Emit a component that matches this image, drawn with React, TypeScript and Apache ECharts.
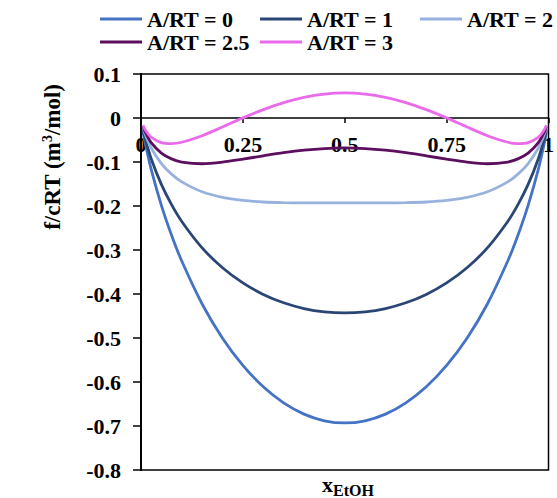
import React, { useEffect, useRef } from "react";
import * as echarts from "echarts";

const xValues = [0.005, 0.01, 0.025, 0.05, 0.075, 0.1, 0.15, 0.2, 0.25, 0.3, 0.35, 0.4, 0.45, 0.5, 0.55, 0.6, 0.65, 0.7, 0.75, 0.8, 0.85, 0.9, 0.925, 0.95, 0.975, 0.99, 0.995];

const seriesNames = ["A/RT = 0", "A/RT = 1", "A/RT = 2", "A/RT = 2.5", "A/RT = 3"];

const a0 = [-0.0315, -0.056, -0.1169, -0.1985, -0.2664, -0.3251, -0.4227, -0.5004, -0.5623, -0.6109, -0.6474, -0.673, -0.6881, -0.6931, -0.6881, -0.673, -0.6474, -0.6109, -0.5623, -0.5004, -0.4227, -0.3251, -0.2664, -0.1985, -0.1169, -0.056, -0.0315];
const a1 = [-0.0265, -0.0461, -0.0925, -0.151, -0.197, -0.2351, -0.2952, -0.3404, -0.3748, -0.4009, -0.4199, -0.433, -0.4406, -0.4431, -0.4406, -0.433, -0.4199, -0.4009, -0.3748, -0.3404, -0.2952, -0.2351, -0.197, -0.151, -0.0925, -0.0461, -0.0265];
const a2 = [-0.0215, -0.0362, -0.0682, -0.1035, -0.1276, -0.1451, -0.1677, -0.1804, -0.1873, -0.1909, -0.1924, -0.193, -0.1931, -0.1931, -0.1931, -0.193, -0.1924, -0.1909, -0.1873, -0.1804, -0.1677, -0.1451, -0.1276, -0.1035, -0.0682, -0.0362, -0.0215];
const a25 = [-0.019, -0.0313, -0.056, -0.0798, -0.0929, -0.1001, -0.104, -0.1004, -0.0936, -0.0859, -0.0787, -0.073, -0.0694, -0.0681, -0.0694, -0.073, -0.0787, -0.0859, -0.0936, -0.1004, -0.104, -0.1001, -0.0929, -0.0798, -0.056, -0.0313, -0.019];
const a3 = [-0.0166, -0.0263, -0.0438, -0.056, -0.0583, -0.0551, -0.0402, -0.0204, 0.0002, 0.0191, 0.0351, 0.047, 0.0544, 0.0569, 0.0544, 0.047, 0.0351, 0.0191, 0.0002, -0.0204, -0.0402, -0.0551, -0.0583, -0.056, -0.0438, -0.0263, -0.0166];

const seriesValues = [a0, a1, a2, a25, a3];
const colors = ["#4472C4", "#2A4675", "#98B2DE", "#5C0F5E", "#EA6BEA"];

const FONT = "'Liberation Serif', 'Times New Roman', serif";

export default function App() {
  const ref = useRef<HTMLDivElement>(null);
  useEffect(() => {
    if (!ref.current) return;
    const chart = echarts.init(ref.current, null, { renderer: "svg" });
    const legendPos = [
      { left: 100, top: 8 },
      { left: 260, top: 8 },
      { left: 420, top: 8 },
      { left: 100, top: 31 },
      { left: 260, top: 31 },
    ];
    chart.setOption({
      animation: false,
      backgroundColor: "#fff",
      grid: {
        left: 141,
        right: 1,
        top: 74,
        bottom: 28,
        show: true,
        borderColor: "#000",
        borderWidth: 1.5,
        backgroundColor: "transparent",
      },
      legend: seriesNames.map((n, i) => ({
        data: [n],
        left: legendPos[i].left,
        top: legendPos[i].top,
        icon: "rect",
        itemWidth: 42,
        itemHeight: 3,
        padding: 0,
        textStyle: {
          fontFamily: FONT,
          fontWeight: "bold",
          fontSize: 22,
          color: "#000",
          lineHeight: 22,
        },
      })),
      xAxis: {
        type: "value",
        min: 0,
        max: 1,
        interval: 0.25,
        position: "bottom",
        offset: -352,
        axisLine: { onZero: false, lineStyle: { color: "#000", width: 1.5 } },
        axisTick: { show: true, length: 5, lineStyle: { color: "#000", width: 1.5 } },
        axisLabel: {
          margin: 15,
          fontFamily: FONT,
          fontWeight: "bold",
          fontSize: 22,
          color: "#000",
        },
        splitLine: { show: false },
      },
      yAxis: {
        type: "value",
        min: -0.8,
        max: 0.1,
        interval: 0.1,
        axisLine: { show: true, onZero: false, lineStyle: { color: "#000", width: 2 } },
        axisTick: { show: true, length: 8, lineStyle: { color: "#000", width: 1.5 } },
        axisLabel: {
          margin: 20,
          fontFamily: FONT,
          fontWeight: "bold",
          fontSize: 22,
          color: "#000",
        },
        splitLine: { show: false },
      },
      graphic: [
        {
          type: "text",
          x: 52,
          y: 157,
          rotation: Math.PI / 2,
          style: {
            text: "{a|f/cRT (m}{s|3}{a|/mol)}",
            align: "center",
            verticalAlign: "middle",
            rich: {
              a: { fontFamily: FONT, fontWeight: "bold", fontSize: 23, lineHeight: 23, fill: "#000", verticalAlign: "bottom" },
              s: { fontFamily: FONT, fontWeight: "bold", fontSize: 14, lineHeight: 14, fill: "#000", verticalAlign: "top" },
            },
          },
        },
        {
          type: "text",
          x: 348,
          y: 495,
          style: {
            text: "{x|x}{sub|EtOH}",
            align: "center",
            verticalAlign: "bottom",
            rich: {
              x: { fontFamily: FONT, fontWeight: "bold", fontSize: 22, lineHeight: 22, fill: "#000", verticalAlign: "top" },
              sub: { fontFamily: FONT, fontWeight: "bold", fontSize: 16, lineHeight: 16, fill: "#000", verticalAlign: "top", padding: [9, 0, 0, 0] },
            },
          },
        },
      ],
      series: seriesNames.map((n, i) => ({
        name: n,
        type: "line",
        data: xValues.map((x, j) => [x, seriesValues[i][j]]),
        smooth: 0.3,
        showSymbol: false,
        symbol: "none",
        lineStyle: { color: colors[i], width: 2.8 },
        itemStyle: { color: colors[i] },
      })),
    });
    return () => chart.dispose();
  }, []);
  return (
    <div
      ref={ref}
      style={{ position: "fixed", left: 0, top: 0, width: 557, height: 498 }}
    />
  );
}
